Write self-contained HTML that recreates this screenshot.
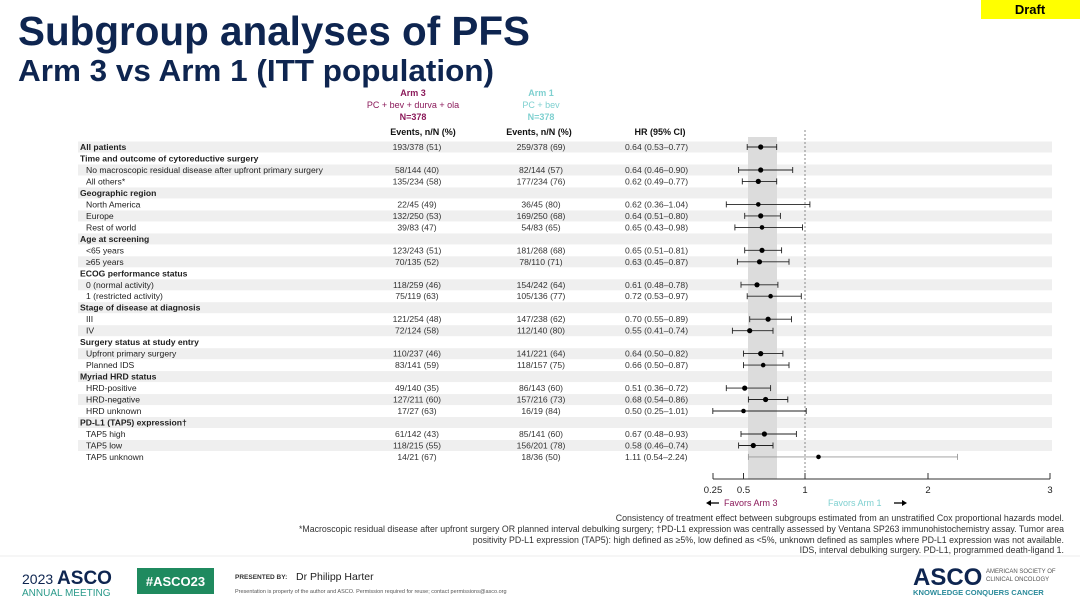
<!DOCTYPE html>
<html><head><meta charset="utf-8"><style>
body{margin:0;background:#fff;}
svg{display:block;font-family:"Liberation Sans",Arial,sans-serif;}
</style></head><body>
<svg width="1080" height="608" viewBox="0 0 1080 608" xmlns="http://www.w3.org/2000/svg">
<rect width="1080" height="608" fill="#fff"/>
<rect x="981" y="0" width="99" height="19" fill="#ffff00"/>
<text x="1030" y="14" font-size="13" font-weight="bold" text-anchor="middle" fill="#000">Draft</text>
<text x="18" y="45" font-size="40.5" font-weight="bold" fill="#0e2550" textLength="512" lengthAdjust="spacingAndGlyphs">Subgroup analyses of PFS</text>
<text x="18" y="81" font-size="30.5" font-weight="bold" fill="#0e2550" textLength="476" lengthAdjust="spacingAndGlyphs">Arm 3 vs Arm 1 (ITT population)</text>

<g font-size="9" text-anchor="middle">
<text x="413" y="96" fill="#8b1a5a" font-weight="bold">Arm 3</text>
<text x="413" y="108" fill="#8b1a5a">PC + bev + durva + ola</text>
<text x="413" y="120" fill="#8b1a5a" font-weight="bold">N=378</text>
<text x="541" y="96" fill="#7fd0d0" font-weight="bold">Arm 1</text>
<text x="541" y="108" fill="#7fd0d0">PC + bev</text>
<text x="541" y="120" fill="#7fd0d0" font-weight="bold">N=378</text>
<text x="423" y="135" fill="#111" font-weight="bold">Events, n/N (%)</text>
<text x="539" y="135" fill="#111" font-weight="bold">Events, n/N (%)</text>
<text x="660" y="135" fill="#111" font-weight="bold">HR (95% CI)</text>
</g>

<g fill="#efefef">
<rect x="78" y="141.5" width="974" height="11"/>
<rect x="78" y="164.5" width="974" height="11"/>
<rect x="78" y="187.4" width="974" height="11"/>
<rect x="78" y="210.4" width="974" height="11"/>
<rect x="78" y="233.4" width="974" height="11"/>
<rect x="78" y="256.3" width="974" height="11"/>
<rect x="78" y="279.3" width="974" height="11"/>
<rect x="78" y="302.2" width="974" height="11"/>
<rect x="78" y="325.2" width="974" height="11"/>
<rect x="78" y="348.2" width="974" height="11"/>
<rect x="78" y="371.1" width="974" height="11"/>
<rect x="78" y="394.1" width="974" height="11"/>
<rect x="78" y="417.0" width="974" height="11"/>
<rect x="78" y="440.0" width="974" height="11"/>
</g>
<rect x="748" y="137" width="29" height="342" fill="#dcdcdc"/>
<line x1="805" y1="130" x2="805" y2="479" stroke="#888" stroke-width="1" stroke-dasharray="2,2"/>

<g font-size="8.6" fill="#222">
<text x="80" y="150" font-weight="bold">All patients</text>
<text x="80" y="161.5" font-weight="bold">Time and outcome of cytoreductive surgery</text>
<text x="86" y="173">No macroscopic residual disease after upfront primary surgery</text>
<text x="86" y="184.5">All others*</text>
<text x="80" y="196" font-weight="bold">Geographic region</text>
<text x="86" y="207.4">North America</text>
<text x="86" y="218.9">Europe</text>
<text x="86" y="230.4">Rest of world</text>
<text x="80" y="241.9" font-weight="bold">Age at screening</text>
<text x="86" y="253.3">&lt;65 years</text>
<text x="86" y="264.8">≥65 years</text>
<text x="80" y="276.3" font-weight="bold">ECOG performance status</text>
<text x="86" y="287.8">0 (normal activity)</text>
<text x="86" y="299.2">1 (restricted activity)</text>
<text x="80" y="310.7" font-weight="bold">Stage of disease at diagnosis</text>
<text x="86" y="322.2">III</text>
<text x="86" y="333.7">IV</text>
<text x="80" y="345.2" font-weight="bold">Surgery status at study entry</text>
<text x="86" y="356.6">Upfront primary surgery</text>
<text x="86" y="368.1">Planned IDS</text>
<text x="80" y="379.6" font-weight="bold">Myriad HRD status</text>
<text x="86" y="391.1">HRD-positive</text>
<text x="86" y="402.5">HRD-negative</text>
<text x="86" y="414">HRD unknown</text>
<text x="80" y="425.5" font-weight="bold">PD-L1 (TAP5) expression†</text>
<text x="86" y="437">TAP5 high</text>
<text x="86" y="448.5">TAP5 low</text>
<text x="86" y="459.9">TAP5 unknown</text>
</g>

<g font-size="8.6" fill="#333" text-anchor="middle">
<text x="417" y="150">193/378 (51)</text><text x="541" y="150">259/378 (69)</text>
<text x="417" y="173">58/144 (40)</text><text x="541" y="173">82/144 (57)</text>
<text x="417" y="184.5">135/234 (58)</text><text x="541" y="184.5">177/234 (76)</text>
<text x="417" y="207.4">22/45 (49)</text><text x="541" y="207.4">36/45 (80)</text>
<text x="417" y="218.9">132/250 (53)</text><text x="541" y="218.9">169/250 (68)</text>
<text x="417" y="230.4">39/83 (47)</text><text x="541" y="230.4">54/83 (65)</text>
<text x="417" y="253.3">123/243 (51)</text><text x="541" y="253.3">181/268 (68)</text>
<text x="417" y="264.8">70/135 (52)</text><text x="541" y="264.8">78/110 (71)</text>
<text x="417" y="287.8">118/259 (46)</text><text x="541" y="287.8">154/242 (64)</text>
<text x="417" y="299.2">75/119 (63)</text><text x="541" y="299.2">105/136 (77)</text>
<text x="417" y="322.2">121/254 (48)</text><text x="541" y="322.2">147/238 (62)</text>
<text x="417" y="333.7">72/124 (58)</text><text x="541" y="333.7">112/140 (80)</text>
<text x="417" y="356.6">110/237 (46)</text><text x="541" y="356.6">141/221 (64)</text>
<text x="417" y="368.1">83/141 (59)</text><text x="541" y="368.1">118/157 (75)</text>
<text x="417" y="391.1">49/140 (35)</text><text x="541" y="391.1">86/143 (60)</text>
<text x="417" y="402.5">127/211 (60)</text><text x="541" y="402.5">157/216 (73)</text>
<text x="417" y="414">17/27 (63)</text><text x="541" y="414">16/19 (84)</text>
<text x="417" y="437">61/142 (43)</text><text x="541" y="437">85/141 (60)</text>
<text x="417" y="448.5">118/215 (55)</text><text x="541" y="448.5">156/201 (78)</text>
<text x="417" y="459.9">14/21 (67)</text><text x="541" y="459.9">18/36 (50)</text>
</g>

<g font-size="8.6" fill="#333">
<text x="625" y="150">0.64 (0.53–0.77)</text>
<text x="625" y="173">0.64 (0.46–0.90)</text>
<text x="625" y="184.5">0.62 (0.49–0.77)</text>
<text x="625" y="207.4">0.62 (0.36–1.04)</text>
<text x="625" y="218.9">0.64 (0.51–0.80)</text>
<text x="625" y="230.4">0.65 (0.43–0.98)</text>
<text x="625" y="253.3">0.65 (0.51–0.81)</text>
<text x="625" y="264.8">0.63 (0.45–0.87)</text>
<text x="625" y="287.8">0.61 (0.48–0.78)</text>
<text x="625" y="299.2">0.72 (0.53–0.97)</text>
<text x="625" y="322.2">0.70 (0.55–0.89)</text>
<text x="625" y="333.7">0.55 (0.41–0.74)</text>
<text x="625" y="356.6">0.64 (0.50–0.82)</text>
<text x="625" y="368.1">0.66 (0.50–0.87)</text>
<text x="625" y="391.1">0.51 (0.36–0.72)</text>
<text x="625" y="402.5">0.68 (0.54–0.86)</text>
<text x="625" y="414">0.50 (0.25–1.01)</text>
<text x="625" y="437">0.67 (0.48–0.93)</text>
<text x="625" y="448.5">0.58 (0.46–0.74)</text>
<text x="625" y="459.9">1.11 (0.54–2.24)</text>
</g>

<g stroke="#222" stroke-width="0.9" fill="#000">
<g><line x1="747.2" y1="147" x2="776.7" y2="147"/><line x1="747.2" y1="144" x2="747.2" y2="150"/><line x1="776.7" y1="144" x2="776.7" y2="150"/><circle cx="760.7" cy="147" r="2.6" stroke="none"/></g>
<g><line x1="738.6" y1="170" x2="792.7" y2="170"/><line x1="738.6" y1="167" x2="738.6" y2="173"/><line x1="792.7" y1="167" x2="792.7" y2="173"/><circle cx="760.7" cy="170" r="2.6" stroke="none"/></g>
<g><line x1="742.3" y1="181.4" x2="776.7" y2="181.4"/><line x1="742.3" y1="178.4" x2="742.3" y2="184.4"/><line x1="776.7" y1="178.4" x2="776.7" y2="184.4"/><circle cx="758.3" cy="181.4" r="2.6" stroke="none"/></g>
<g><line x1="726.3" y1="204.4" x2="809.9" y2="204.4"/><line x1="726.3" y1="201.4" x2="726.3" y2="207.4"/><line x1="809.9" y1="201.4" x2="809.9" y2="207.4"/><circle cx="758.3" cy="204.4" r="2.3" stroke="none"/></g>
<g><line x1="744.7" y1="215.9" x2="780.4" y2="215.9"/><line x1="744.7" y1="212.9" x2="744.7" y2="218.9"/><line x1="780.4" y1="212.9" x2="780.4" y2="218.9"/><circle cx="760.7" cy="215.9" r="2.6" stroke="none"/></g>
<g><line x1="734.9" y1="227.4" x2="802.5" y2="227.4"/><line x1="734.9" y1="224.4" x2="734.9" y2="230.4"/><line x1="802.5" y1="224.4" x2="802.5" y2="230.4"/><circle cx="762" cy="227.4" r="2.3" stroke="none"/></g>
<g><line x1="744.7" y1="250.3" x2="781.6" y2="250.3"/><line x1="744.7" y1="247.3" x2="744.7" y2="253.3"/><line x1="781.6" y1="247.3" x2="781.6" y2="253.3"/><circle cx="762" cy="250.3" r="2.6" stroke="none"/></g>
<g><line x1="737.4" y1="261.8" x2="789" y2="261.8"/><line x1="737.4" y1="258.8" x2="737.4" y2="264.8"/><line x1="789" y1="258.8" x2="789" y2="264.8"/><circle cx="759.5" cy="261.8" r="2.6" stroke="none"/></g>
<g><line x1="741" y1="284.8" x2="777.9" y2="284.8"/><line x1="741" y1="281.8" x2="741" y2="287.8"/><line x1="777.9" y1="281.8" x2="777.9" y2="287.8"/><circle cx="757" cy="284.8" r="2.6" stroke="none"/></g>
<g><line x1="747.2" y1="296.2" x2="801.3" y2="296.2"/><line x1="747.2" y1="293.2" x2="747.2" y2="299.2"/><line x1="801.3" y1="293.2" x2="801.3" y2="299.2"/><circle cx="770.6" cy="296.2" r="2.3" stroke="none"/></g>
<g><line x1="749.7" y1="319.2" x2="791.5" y2="319.2"/><line x1="749.7" y1="316.2" x2="749.7" y2="322.2"/><line x1="791.5" y1="316.2" x2="791.5" y2="322.2"/><circle cx="768.1" cy="319.2" r="2.6" stroke="none"/></g>
<g><line x1="732.4" y1="330.7" x2="773" y2="330.7"/><line x1="732.4" y1="327.7" x2="732.4" y2="333.7"/><line x1="773" y1="327.7" x2="773" y2="333.7"/><circle cx="749.7" cy="330.7" r="2.6" stroke="none"/></g>
<g><line x1="743.5" y1="353.6" x2="782.9" y2="353.6"/><line x1="743.5" y1="350.6" x2="743.5" y2="356.6"/><line x1="782.9" y1="350.6" x2="782.9" y2="356.6"/><circle cx="760.7" cy="353.6" r="2.6" stroke="none"/></g>
<g><line x1="743.5" y1="365.1" x2="789" y2="365.1"/><line x1="743.5" y1="362.1" x2="743.5" y2="368.1"/><line x1="789" y1="362.1" x2="789" y2="368.1"/><circle cx="763.2" cy="365.1" r="2.3" stroke="none"/></g>
<g><line x1="726.3" y1="388.1" x2="770.6" y2="388.1"/><line x1="726.3" y1="385.1" x2="726.3" y2="391.1"/><line x1="770.6" y1="385.1" x2="770.6" y2="391.1"/><circle cx="744.7" cy="388.1" r="2.6" stroke="none"/></g>
<g><line x1="748.4" y1="399.5" x2="787.8" y2="399.5"/><line x1="748.4" y1="396.5" x2="748.4" y2="402.5"/><line x1="787.8" y1="396.5" x2="787.8" y2="402.5"/><circle cx="765.6" cy="399.5" r="2.6" stroke="none"/></g>
<g><line x1="712.8" y1="411" x2="806.2" y2="411"/><line x1="712.8" y1="408" x2="712.8" y2="414"/><line x1="806.2" y1="408" x2="806.2" y2="414"/><circle cx="743.5" cy="411" r="2.3" stroke="none"/></g>
<g><line x1="741" y1="434" x2="796.4" y2="434"/><line x1="741" y1="431" x2="741" y2="437"/><line x1="796.4" y1="431" x2="796.4" y2="437"/><circle cx="764.4" cy="434" r="2.6" stroke="none"/></g>
<g><line x1="738.6" y1="445.5" x2="773" y2="445.5"/><line x1="738.6" y1="442.5" x2="738.6" y2="448.5"/><line x1="773" y1="442.5" x2="773" y2="448.5"/><circle cx="753.3" cy="445.5" r="2.6" stroke="none"/></g>
<g stroke="#999"><line x1="748.4" y1="456.9" x2="957.5" y2="456.9"/><line x1="748.4" y1="453.9" x2="748.4" y2="459.9"/><line x1="957.5" y1="453.9" x2="957.5" y2="459.9"/><circle cx="818.5" cy="456.9" r="2.3" fill="#000" stroke="none"/></g>
</g>

<g stroke="#333" stroke-width="1">
<line x1="713" y1="479" x2="1050" y2="479"/>
<line x1="713" y1="473" x2="713" y2="479"/>
<line x1="743.5" y1="473" x2="743.5" y2="479"/>
<line x1="805" y1="473" x2="805" y2="479"/>
<line x1="928" y1="473" x2="928" y2="479"/>
<line x1="1050" y1="473" x2="1050" y2="479"/>
</g>
<g font-size="9.5" fill="#222" text-anchor="middle">
<text x="713" y="493">0.25</text><text x="743.5" y="493">0.5</text><text x="805" y="493">1</text><text x="928" y="493">2</text><text x="1050" y="493">3</text>
</g>
<g stroke="#000" stroke-width="1.3" fill="#000">
<line x1="709" y1="503" x2="719" y2="503"/><polygon points="706,503 711,500 711,506" stroke="none"/>
<line x1="894" y1="503" x2="904" y2="503"/><polygon points="907,503 902,500 902,506" stroke="none"/>
</g>
<g font-size="9">
<text x="724" y="506" fill="#8b1a5a">Favors Arm 3</text>
<text x="828" y="506" fill="#7fd0d0">Favors Arm 1</text>
</g>
<g font-size="8.8" fill="#333" text-anchor="end">
<text x="1064" y="521">Consistency of treatment effect between subgroups estimated from an unstratified Cox proportional hazards model.</text>
<text x="1064" y="532">*Macroscopic residual disease after upfront surgery OR planned interval debulking surgery; †PD-L1 expression was centrally assessed by Ventana SP263 immunohistochemistry assay. Tumor area</text>
<text x="1064" y="543">positivity PD-L1 expression (TAP5): high defined as ≥5%, low defined as &lt;5%, unknown defined as samples where PD-L1 expression was not available.</text>
<text x="1064" y="553">IDS, interval debulking surgery. PD-L1, programmed death-ligand 1.</text>
</g>
<line x1="0" y1="556" x2="1080" y2="556" stroke="#eee" stroke-width="1"/>

<text x="22" y="584" font-size="14" fill="#0e2550">2023 <tspan font-weight="bold" font-size="19">ASCO</tspan></text>
<text x="22" y="596" font-size="10" fill="#2a9a8a">ANNUAL MEETING</text>
<rect x="137" y="568" width="77" height="26" fill="#1f8a5f"/>
<text x="175.5" y="586" font-size="13" font-weight="bold" fill="#fff" text-anchor="middle">#ASCO23</text>
<text x="235" y="579" font-size="6.5" font-weight="bold" fill="#333">PRESENTED BY:</text>
<text x="296" y="580" font-size="10.5" fill="#222">Dr Philipp Harter</text>
<text x="235" y="593" font-size="5.5" fill="#555">Presentation is property of the author and ASCO. Permission required for reuse; contact permissions@asco.org</text>
<text x="913" y="585" font-size="24" font-weight="bold" fill="#0e2550">ASCO</text>
<text x="986" y="573" font-size="6" fill="#555">AMERICAN SOCIETY OF</text>
<text x="986" y="581" font-size="6" fill="#555">CLINICAL ONCOLOGY</text>
<text x="913" y="595" font-size="7.6" font-weight="bold" fill="#2a8a9a">KNOWLEDGE CONQUERS CANCER</text>
</svg>
</body></html>
